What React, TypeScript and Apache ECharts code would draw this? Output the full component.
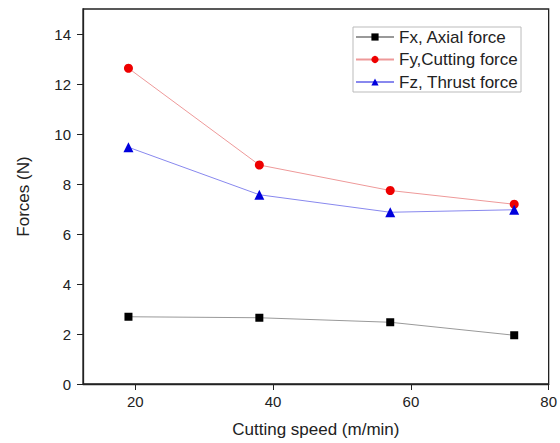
import React, { useEffect, useRef } from "react";
import * as echarts from "echarts";

const speeds = [19, 38, 57, 75];
const fx = [2.69, 2.65, 2.47, 1.95];
const fy = [12.63, 8.76, 7.74, 7.19];
const fz = [9.47, 7.57, 6.87, 6.97];
const xTicks = [20, 40, 60, 80];
const seriesNames = ["Fx, Axial force", "Fy,Cutting force", "Fz, Thrust force"];

export default function App() {
  const ref = useRef<HTMLDivElement>(null);
  useEffect(() => {
    const chart = echarts.init(ref.current!, undefined, { renderer: "svg" });
    const font = "Liberation Sans, Arial, sans-serif";
    const mk = (name: string, data: number[], symbol: string, size: number, mcol: string, lcol: string) => ({
      name,
      type: "line",
      data: speeds.map((s, i) => [s, data[i]]),
      symbol,
      symbolSize: size,
      itemStyle: { color: mcol },
      lineStyle: { color: lcol, width: 1 },
    });
    chart.setOption({
      animation: false,
      backgroundColor: "#fff",
      grid: {
        left: 83,
        right: 11,
        top: 9,
        bottom: 56,
        show: true,
        borderColor: "#222",
        borderWidth: 1.3,
      },
      legend: {
        orient: "vertical",
        left: 353,
        top: 27,
        padding: [0, 3, 0, 2],
        borderColor: "#bbb",
        borderWidth: 1,
        itemWidth: 38,
        itemHeight: 9,
        itemGap: 2.5,
        textStyle: { fontFamily: font, fontSize: 17, color: "#222", lineHeight: 20 },
        data: seriesNames,
      },
      xAxis: {
        type: "value",
        min: 12.4,
        max: 80,
        name: "Cutting speed (m/min)",
        nameLocation: "middle",
        nameGap: 37,
        nameTextStyle: { fontFamily: font, fontSize: 17, color: "#222" },
        axisLine: { lineStyle: { color: "#222", width: 1.3 } },
        axisTick: { show: true, length: 6, customValues: xTicks, lineStyle: { color: "#222" } },
        axisLabel: { customValues: xTicks, fontFamily: font, fontSize: 15, color: "#222", margin: 10 },
        splitLine: { show: false },
      },
      yAxis: {
        type: "value",
        min: 0,
        max: 15,
        interval: 2,
        name: "Forces (N)",
        nameLocation: "middle",
        nameGap: 51,
        nameTextStyle: { fontFamily: font, fontSize: 17, color: "#222" },
        axisLine: { show: true, lineStyle: { color: "#222", width: 1.3 } },
        axisTick: { show: true, length: 6, lineStyle: { color: "#222" } },
        axisLabel: { fontFamily: font, fontSize: 15, color: "#222", margin: 12, showMaxLabel: false },
        splitLine: { show: false },
      },
      series: [
        mk(seriesNames[0], fx, "rect", 8, "#000", "#999"),
        mk(seriesNames[1], fy, "circle", 9, "#ee0000", "#ee9999"),
        mk(seriesNames[2], fz, "triangle", 10, "#0000dd", "#8888ee"),
      ],
    });
    return () => chart.dispose();
  }, []);
  return <div ref={ref} style={{ width: 560, height: 443, position: "absolute", left: 0, top: 0 }} />;
}
